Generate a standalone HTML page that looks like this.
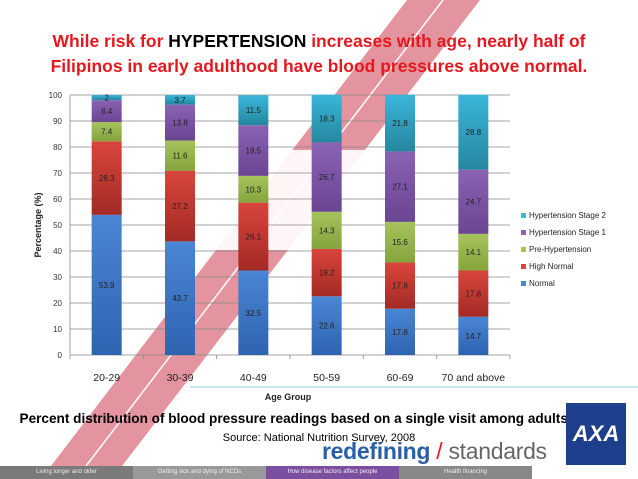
<!DOCTYPE html>
<html><head><meta charset="utf-8"><style>
body{margin:0;width:638px;height:479px;overflow:hidden;background:#fff;font-family:"Liberation Sans",sans-serif;position:relative}
</style></head><body>
<svg width="638" height="479" style="position:absolute;left:0;top:0">
<polygon points="407,0 480,0 122,466 51,466" fill="#d9707e" opacity="0.75"/>
<line x1="443" y1="0" x2="86" y2="466" stroke="#fff" stroke-width="1.5"/>
<polygon points="240,150 380,150 300,250 160,250" fill="#fff" opacity="0.9"/>
<line x1="190" y1="387" x2="638" y2="387" stroke="#a8d4e0" stroke-width="1.2"/>
</svg>
<div style="position:absolute;left:0;top:29px;width:638px;text-align:center;font-weight:bold;font-size:17.5px;line-height:25px;color:#e3191f">While risk for <span style="color:#000">HYPERTENSION</span> increases with age, nearly half of<br>Filipinos in early adulthood have blood pressures above normal.</div>
<svg id="chart" width="638" height="479" style="position:absolute;left:0;top:0"></svg>
<div style="position:absolute;left:0;top:411px;width:638px;text-align:center;font-weight:bold;font-size:13.6px;color:#000">Percent distribution of blood pressure readings based on a single visit among adults, by age</div>
<div style="position:absolute;left:0;top:432px;width:638px;text-align:center;font-size:11px;color:#000">Source: National Nutrition Survey, 2008</div>
<div style="position:absolute;left:322px;top:438px;font-size:23px;white-space:nowrap;letter-spacing:-0.3px"><b style="color:#2a5fa8">redefining</b> <span style="color:#e3191f">/</span> <span style="color:#666">standards</span></div>
<div style="position:absolute;left:566px;top:403px;width:60px;height:62px;background:#1d3f8c;color:#fff;font-weight:bold;font-size:22px;text-align:center;line-height:62px;font-style:italic">AXA</div>
<div style="position:absolute;left:0;top:466px;width:532px;height:13px;display:flex;font-size:6px;color:#eee;line-height:13px;text-align:center">
<div style="width:133px;background:#7a7a7a">Living longer and older</div>
<div style="width:133px;background:#999">Getting sick and dying of NCDs</div>
<div style="width:133px;background:#7b4fa0">How disease factors affect people</div>
<div style="width:133px;background:#888">Health financing</div>
</div>
<script>
const categories=["20-29","30-39","40-49","50-59","60-69","70 and above"];
const seriesNames=["Normal","High Normal","Pre-Hypertension","Hypertension Stage 1","Hypertension Stage 2"];
const normal=[53.9,43.7,32.5,22.6,17.8,14.7];
const highNormal=[28.3,27.2,26.1,18.2,17.8,17.8];
const preHyp=[7.4,11.6,10.3,14.3,15.6,14.1];
const stage1=[8.4,13.8,19.5,26.7,27.1,24.7];
const stage2=[2,3.7,11.5,18.3,21.8,28.8];
const yTicks=[0,10,20,30,40,50,60,70,80,90,100];
const series=[normal,highNormal,preHyp,stage1,stage2];
const colors=[["#4a86d4","#2e63b0"],["#d9453c","#a32a25"],["#a6c35e","#84a43c"],["#8a63b4","#6a4592"],["#3ab6da","#25879f"]];
const svg=document.getElementById('chart');const NS="http://www.w3.org/2000/svg";
function mk(t,a,p){const e=document.createElementNS(NS,t);for(const k in a)e.setAttribute(k,a[k]);(p||svg).appendChild(e);return e;}
const X0=70,X1=510,Y0=355,Y1=95;
const y=v=>Y0-(v/100)*(Y0-Y1);
const bw=(X1-X0)/categories.length;
const xc=i=>X0+bw*(i+0.5);
const defs=mk('defs',{});
colors.forEach((c,i)=>{const g=mk('linearGradient',{id:'g'+i,x1:0,y1:0,x2:0,y2:1},defs);mk('stop',{offset:0,'stop-color':c[0]},g);mk('stop',{offset:1,'stop-color':c[1]},g);});
yTicks.forEach(t=>{
const l=mk('line',{x1:X0,x2:X1,y1:y(t),y2:y(t),stroke:'#888','stroke-width':0.8});


const tx=mk('text',{x:X0-8,y:y(t)+3,'text-anchor':'end','font-size':8,fill:'#333'});tx.textContent=t;


});
mk('line',{x1:X0,x2:X0,y1:Y1,y2:Y0,stroke:'#888','stroke-width':0.8});
for(let i=0;i<=categories.length;i++){mk('line',{x1:X0+bw*i,x2:X0+bw*i,y1:Y0,y2:Y0+4,stroke:'#888','stroke-width':0.8});}
categories.forEach((c,i)=>{
let base=0;
series.forEach((s,j)=>{
const v=s[i];
const r=mk('rect',{x:xc(i)-15,y:y(base+v),width:30,height:y(base)-y(base+v),fill:'url(#g'+j+')'});


const t=mk('text',{x:xc(i),y:(y(base)+y(base+v))/2+3,'text-anchor':'middle','font-size':8,fill:'#222'});t.textContent=v;


base+=v;
});
const xl=mk('text',{x:xc(i),y:381,'text-anchor':'middle','font-size':10.5,fill:'#222'});xl.textContent=c;


});
const xt=mk('text',{x:288,y:400,'text-anchor':'middle','font-size':9,'font-weight':'bold',fill:'#222'});xt.textContent='Age Group';


const yt=mk('text',{x:0,y:0,'text-anchor':'middle','font-size':9,'font-weight':'bold',fill:'#222',transform:'translate(41,225) rotate(-90)'});yt.textContent='Percentage (%)';


for(let j=4;j>=0;j--){
const ly=218+(4-j)*17;
const g=mk('g',{});


mk('rect',{x:521,y:ly-5,width:5,height:5,fill:colors[j][0]},g);
const t=mk('text',{x:529,y:ly,'font-size':8,fill:'#222'},g);t.textContent=seriesNames[j];
}
</script>
</body></html>
